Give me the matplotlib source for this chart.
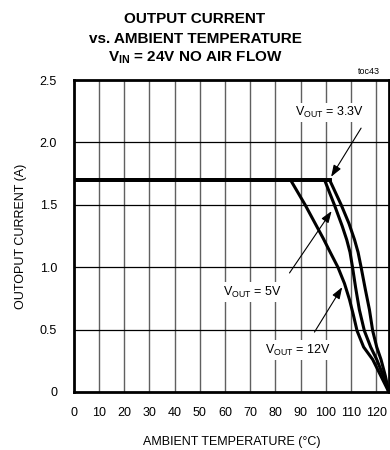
import matplotlib
matplotlib.use("Agg")
import matplotlib.pyplot as plt

plt.rcParams["font.family"] = ["Liberation Sans", "DejaVu Sans"]
plt.rcParams["mathtext.fontset"] = "custom"
plt.rcParams["mathtext.rm"] = "Liberation Sans"
plt.rcParams["mathtext.bf"] = "Liberation Sans:bold"

# derating curves, temperature (°C) vs output current (A)
temp_12v = [0, 86.0, 91.8, 95.8, 99.0, 102.0, 104.8, 107.4, 109.4, 110.9, 112.4, 115.0, 118.6, 121.8, 125.0]
curr_12v = [1.7, 1.7, 1.5, 1.35, 1.23, 1.11, 1.0, 0.87, 0.74, 0.62, 0.49, 0.36, 0.26, 0.13, 0.0]

temp_5v = [0, 99.5, 103.4, 106.5, 108.3, 109.6, 110.6, 111.8, 113.3, 115.3, 117.8, 120.2, 122.8, 125.0]
curr_5v = [1.7, 1.7, 1.5, 1.33, 1.22, 1.12, 1.0, 0.84, 0.66, 0.49, 0.36, 0.26, 0.13, 0.0]

temp_3v3 = [0, 101.5, 106.1, 109.2, 111.4, 112.8, 114.0, 115.7, 117.3, 118.6, 120.2, 121.9, 123.6, 125.0]
curr_3v3 = [1.7, 1.7, 1.5, 1.35, 1.22, 1.12, 1.0, 0.82, 0.66, 0.49, 0.36, 0.26, 0.13, 0.0]

x_ticks = list(range(0, 121, 10))
y_ticks = [0, 0.5, 1.0, 1.5, 2.0, 2.5]
y_tick_labels = ["0", "0.5", "1.0", "1.5", "2.0", "2.5"]

fig = plt.figure(figsize=(3.9, 4.5), dpi=100)
ax = fig.add_axes([0.189, 0.129, 0.808, 0.693])

ax.set_xlim(0, 125)
ax.set_ylim(0, 2.5)
for xv in x_ticks[1:]:
    ax.axvline(xv, color="#606060", lw=1.0, zorder=1)
for yv in y_ticks[1:-1]:
    ax.axhline(yv, color="black", lw=0.9, zorder=1)

for t, c in [(temp_12v, curr_12v), (temp_5v, curr_5v), (temp_3v3, curr_3v3)]:
    ax.plot(t, c, color="black", lw=2.2, zorder=3,
            solid_joinstyle="round", solid_capstyle="round")
ax.plot([0, temp_3v3[1]], [1.7, 1.7], color="black", lw=2.8, zorder=3)

ax.set_xticks(x_ticks)
ax.set_yticks(y_ticks)
ax.set_yticklabels(y_tick_labels)
ax.tick_params(axis="x", length=0, labelsize=9, pad=11)
ax.tick_params(axis="y", length=0, labelsize=9, pad=12)
for s in ax.spines.values():
    s.set_linewidth(2.0)

ax.set_xlabel("AMBIENT TEMPERATURE (°C)", fontsize=9, labelpad=12)
ax.set_ylabel("OUTOPUT CURRENT (A)", fontsize=9, labelpad=9)

box = dict(facecolor="white", edgecolor="none", pad=1.5)
arrow = dict(arrowstyle="-|>,head_length=0.7,head_width=0.25", color="black",
             lw=0.8, shrinkA=0, shrinkB=0)
labels = [
    (r"V$_{\mathrm{OUT}}$ = 3.3V", (101.5, 2.24), (114.0, 2.115), (102.1, 1.725)),
    (r"V$_{\mathrm{OUT}}$ = 5V", (71.0, 0.80), (85.6, 0.954), (102.3, 1.45)),
    (r"V$_{\mathrm{OUT}}$ = 12V", (88.8, 0.336), (95.5, 0.48), (106.5, 0.84)),
]
for txt, pos, tail, tip in labels:
    ax.text(pos[0], pos[1], txt, fontsize=9, ha="center", va="center",
            bbox=box, zorder=5)
    ax.annotate("", xy=tip, xytext=tail, arrowprops=arrow, zorder=5)

fig.text(0.5, 0.958, "OUTPUT CURRENT", ha="center", va="center",
         fontsize=11, fontweight="bold")
fig.text(0.5, 0.913, "vs. AMBIENT TEMPERATURE", ha="center", va="center",
         fontsize=11, fontweight="bold")
fig.text(0.5, 0.872, r"V$_{\mathbf{IN}}$ = 24V NO AIR FLOW", ha="center", va="center",
         fontsize=11, fontweight="bold")
fig.text(0.975, 0.84, "toc43", ha="right", va="center", fontsize=6.5)

fig.savefig("out.png", dpi=100)
